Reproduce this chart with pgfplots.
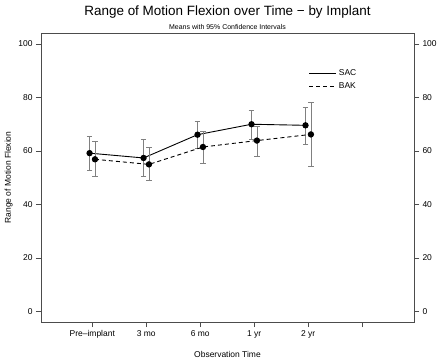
\documentclass[border=0pt]{standalone}
\usepackage{fontspec}
\setmainfont{Liberation Sans}
\usepackage{pgfplots}
\pgfplotsset{compat=1.18}
\begin{document}
\begin{tikzpicture}[x=1bp,y=1bp]
\useasboundingbox (-41bp,-42bp) rectangle (399bp,322bp);
\begin{axis}[
  at={(0,0)}, anchor=south west,
  width=373bp, height=289bp, scale only axis,
  xmin=0.05, xmax=6.96, ymin=-4, ymax=104,
  xtick={1,2,3,4,5,6},
  xticklabels={Pre\textendash implant,3 mo,6 mo,1 yr,2 yr,},
  ytick={0,20,40,60,80,100},
  tick align=outside,
  major tick length=5bp,
  xtick pos=bottom,
  ytick pos=both,
  yticklabel pos=left,
  axis line style={black!70},
  tick style={black!70},
  every tick label/.style={font=\fontsize{8.5}{10}\selectfont},
  /pgf/number format/assume math mode=true,
  xlabel={Observation Time},
  ylabel={Range of Motion Flexion},
  xlabel style={font=\fontsize{8.5}{10}\selectfont, yshift=-6bp},
  ylabel style={font=\fontsize{8.5}{10}\selectfont, yshift=-1bp},
  title={\fontsize{13.5}{15}\selectfont Range of Motion Flexion over Time \textminus\ by Implant\\[1.5bp]\fontsize{7}{8}\selectfont Means with 95\% Confidence Intervals},
  title style={align=center, yshift=-6bp},
  legend style={draw=none, fill=none, at={(0.71,0.887)}, anchor=north west, font=\fontsize{8.5}{10}\selectfont, row sep=1.5bp},
  legend cell align=left,
  legend image code/.code={\draw[#1,mark=none] (0bp,0bp) -- (27bp,0bp);},
  error bars/error bar style={black!50, line width=0.7pt, solid},
  error bars/error mark options={black!50, line width=0.7pt, rotate=90, mark size=2.8bp, solid},
]
\addplot[black, line width=0.9pt, mark=*, mark size=2.7bp,
  error bars/.cd, y dir=both, y explicit]
  table[x=x, y=y, y error plus=ep, y error minus=em] {
x y ep em
0.95 59.1 6.4 6.3
1.95 57.3 7.0 6.8
2.95 66.0 5.0 5.1
3.95 69.9 5.3 5.5
4.95 69.5 6.8 7.0
};
\addlegendentry{SAC}
\addplot[black, line width=0.9pt, dash pattern=on 4bp off 3bp, mark=*, mark size=2.7bp, mark options={solid},
  error bars/.cd, y dir=both, y explicit]
  table[x=x, y=y, y error plus=ep, y error minus=em] {
x y ep em
1.05 56.8 6.6 6.5
2.05 54.9 6.2 6.0
3.05 61.4 6.0 6.0
4.05 63.8 5.4 6.0
5.05 66.1 11.9 11.9
};
\addlegendentry{BAK}
\end{axis}
\begin{axis}[
  at={(0,0)}, anchor=south west,
  width=373bp, height=289bp, scale only axis,
  xmin=0.05, xmax=6.96, ymin=-4, ymax=104,
  axis line style={draw=none},
  xtick=\empty,
  ytick={0,20,40,60,80,100},
  tick align=outside, major tick length=5bp,
  ytick pos=right, yticklabel pos=right,
  tick style={black!70},
  every tick label/.style={font=\fontsize{8.5}{10}\selectfont},
  /pgf/number format/assume math mode=true,
]
\end{axis}
\end{tikzpicture}
\end{document}
